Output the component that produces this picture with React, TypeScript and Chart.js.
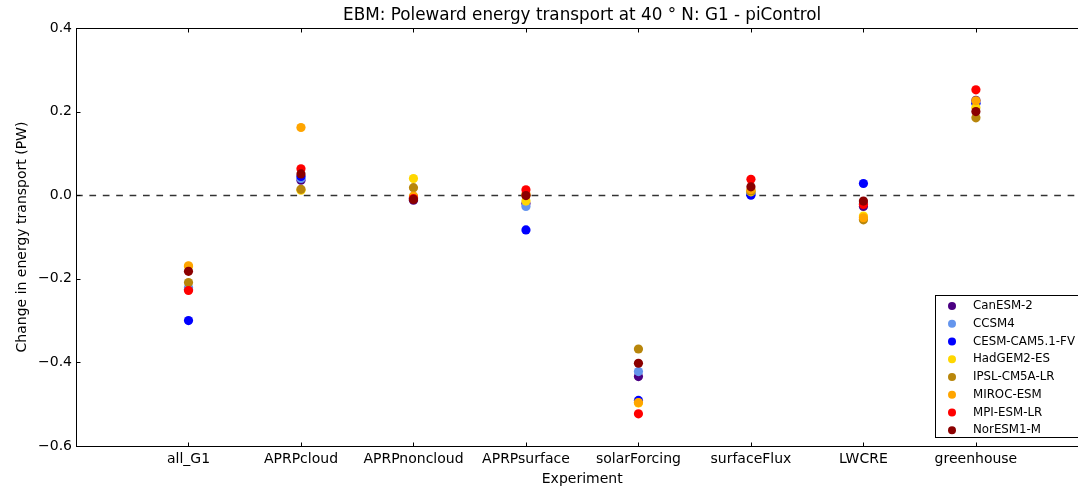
import React, { useEffect, useRef } from "react";
import { Chart, registerables } from "chart.js";

Chart.register(...registerables);

const categories = ["all_G1", "APRPcloud", "APRPnoncloud", "APRPsurface", "solarForcing", "surfaceFlux", "LWCRE", "greenhouse"];

const models = ["CanESM-2", "CCSM4", "CESM-CAM5.1-FV", "HadGEM2-ES", "IPSL-CM5A-LR", "MIROC-ESM", "MPI-ESM-LR", "NorESM1-M"];
const modelColors = ["#4B0082", "#6495ED", "#0000FF", "#FFD700", "#B8860B", "#FFA500", "#FF0000", "#8B0000"];

const canESM2 = [-0.225, 0.036, -0.012, -0.02, -0.434, 0.005, -0.027, 0.227];
const ccsm4 = [-0.221, 0.04, -0.005, -0.027, -0.422, 0.003, -0.02, 0.22];
const cesmCAM51FV = [-0.3, 0.045, -0.008, -0.083, -0.491, 0.0, 0.028, 0.22];
const hadGEM2ES = [-0.17, 0.012, 0.04, -0.014, -0.497, 0.008, -0.05, 0.21];
const ipslCM5ALR = [-0.209, 0.014, 0.018, 0.0, -0.368, 0.01, -0.059, 0.185];
const mirocESM = [-0.169, 0.162, -0.002, 0.003, -0.496, 0.013, -0.054, 0.226];
const mpiESMLR = [-0.228, 0.063, -0.008, 0.013, -0.523, 0.038, -0.022, 0.252];
const norESM1M = [-0.182, 0.051, -0.01, -0.001, -0.402, 0.02, -0.014, 0.2];

const seriesValues = [canESM2, ccsm4, cesmCAM51FV, hadGEM2ES, ipslCM5ALR, mirocESM, mpiESMLR, norESM1M];

const yTicks = [-0.6, -0.4, -0.2, 0.0, 0.2, 0.4];

const titleText = "EBM: Poleward energy transport at 40 \u00b0 N: G1 - piControl";
const FONT = "'DejaVu Sans', sans-serif";

const fmtY = (v: number) => {
  if (Math.abs(v) < 1e-9) return "0.0";
  const s = v.toFixed(1);
  return s.replace("-", "\u2212");
};

const framePlugin = {
  id: "mplFrame",
  beforeDatasetsDraw(chart: any) {
    const { ctx, chartArea } = chart;
    const y0 = Math.round(chart.scales.y.getPixelForValue(0)) + 0.5;
    ctx.save();
    ctx.beginPath();
    ctx.rect(chartArea.left, chartArea.top, chartArea.right - chartArea.left, chartArea.bottom - chartArea.top);
    ctx.clip();
    ctx.strokeStyle = "rgba(0,0,0,0.8)";
    ctx.lineWidth = 1.5;
    ctx.setLineDash([6.7, 6.7]);
    ctx.beginPath();
    ctx.moveTo(chartArea.left, y0);
    ctx.lineTo(chartArea.right, y0);
    ctx.stroke();
    ctx.restore();
  },
  afterDatasetsDraw(chart: any) {
    const { ctx, chartArea } = chart;
    const L = Math.round(chartArea.left) + 0.5;
    const R = Math.round(chartArea.right) + 0.5;
    const T = Math.round(chartArea.top) + 0.5;
    const B = Math.round(chartArea.bottom) + 0.5;
    ctx.save();
    ctx.strokeStyle = "#000";
    ctx.lineWidth = 1;
    ctx.setLineDash([]);
    ctx.strokeRect(L, T, R - L, B - T);
    const tl = 4;
    ctx.beginPath();
    categories.forEach((_, i) => {
      const px = Math.round(chart.scales.x.getPixelForValue(i)) + 0.5;
      ctx.moveTo(px, B);
      ctx.lineTo(px, B - tl);
      ctx.moveTo(px, T);
      ctx.lineTo(px, T + tl);
    });
    yTicks.forEach((v) => {
      const py = Math.round(chart.scales.y.getPixelForValue(v)) + 0.5;
      ctx.moveTo(L, py);
      ctx.lineTo(L + tl, py);
      ctx.moveTo(R, py);
      ctx.lineTo(R - tl, py);
    });
    ctx.stroke();

    // title
    ctx.fillStyle = "#000";
    ctx.font = `16.8px ${FONT}`;
    ctx.textAlign = "center";
    ctx.textBaseline = "middle";
    ctx.fillText(titleText, (chartArea.left + chartArea.right) / 2, 16);

    // legend
    const bx = Math.round(chartArea.right - 153) + 0.5;
    const by = Math.round(chartArea.top + 267) + 0.5;
    const bw = 150;
    const bh = 142;
    ctx.fillStyle = "#fff";
    ctx.fillRect(bx, by, bw, bh);
    ctx.strokeStyle = "#000";
    ctx.lineWidth = 1;
    ctx.strokeRect(bx, by, bw, bh);
    ctx.font = `11.8px ${FONT}`;
    ctx.textAlign = "left";
    ctx.textBaseline = "middle";
    models.forEach((m, i) => {
      const ry = by + 10.5 + i * 17.75;
      ctx.fillStyle = modelColors[i];
      ctx.beginPath();
      ctx.arc(bx + 16.5, ry, 4, 0, Math.PI * 2);
      ctx.fill();
      ctx.fillStyle = "#000";
      ctx.fillText(m, bx + 37.5, ry);
    });
    ctx.restore();
  },
};

export default function App() {
  const ref = useRef<HTMLCanvasElement | null>(null);
  useEffect(() => {
    if (!ref.current) return;
    const datasets = models.map((m, i) => ({
      label: m,
      data: seriesValues[i].map((v, j) => ({ x: j, y: v })),
      backgroundColor: modelColors[i],
      borderColor: modelColors[i],
      borderWidth: 0,
      pointRadius: 4.6,
      pointHoverRadius: 4.6,
      showLine: false,
      order: models.length - 1 - i,
    }));
    const chart = new Chart(ref.current, {
      type: "scatter",
      data: { datasets },
      plugins: [framePlugin],
      options: {
        animation: false,
        responsive: false,
        devicePixelRatio: 1,
        layout: { padding: { left: 0, right: 11.6, top: 28, bottom: 0 } },
        plugins: { legend: { display: false }, title: { display: false }, tooltip: { enabled: false } },
        scales: {
          x: {
            type: "linear",
            min: -1,
            max: 8,
            afterFit: (s: any) => { s.height = 42; },
            afterBuildTicks: (s: any) => { s.ticks = categories.map((_, i) => ({ value: i })); },
            grid: { display: false, drawTicks: false },
            border: { display: false },
            ticks: {
              padding: 5,
              autoSkip: false,
              maxRotation: 0,
              color: "#000",
              font: { family: FONT, size: 14 },
              callback: (v: any) => categories[Math.round(Number(v))] ?? "",
            },
            title: { display: true, text: "Experiment", color: "#000", font: { family: FONT, size: 14 }, padding: { top: 0, bottom: 0.5 } },
          },
          y: {
            type: "linear",
            min: -0.6,
            max: 0.4,
            afterFit: (s: any) => { s.width = 76; },
            afterBuildTicks: (s: any) => { s.ticks = yTicks.map((v) => ({ value: v })); },
            grid: { display: false, drawTicks: false },
            border: { display: false },
            ticks: {
              padding: 4,
              color: "#000",
              font: { family: FONT, size: 14 },
              callback: (v: any) => fmtY(Number(v)),
            },
            title: { display: true, text: "Change in energy transport (PW)", color: "#000", font: { family: FONT, size: 14 }, padding: { top: 14, bottom: 0 } },
          },
        },
      },
    });
    return () => chart.destroy();
  }, []);
  return (
    <div style={{ position: "fixed", left: 0, top: 0, width: 1078, height: 488, overflow: "hidden", background: "#fff" }}>
      <canvas ref={ref} width={1100} height={488} style={{ display: "block", width: 1100, height: 488 }} />
    </div>
  );
}
